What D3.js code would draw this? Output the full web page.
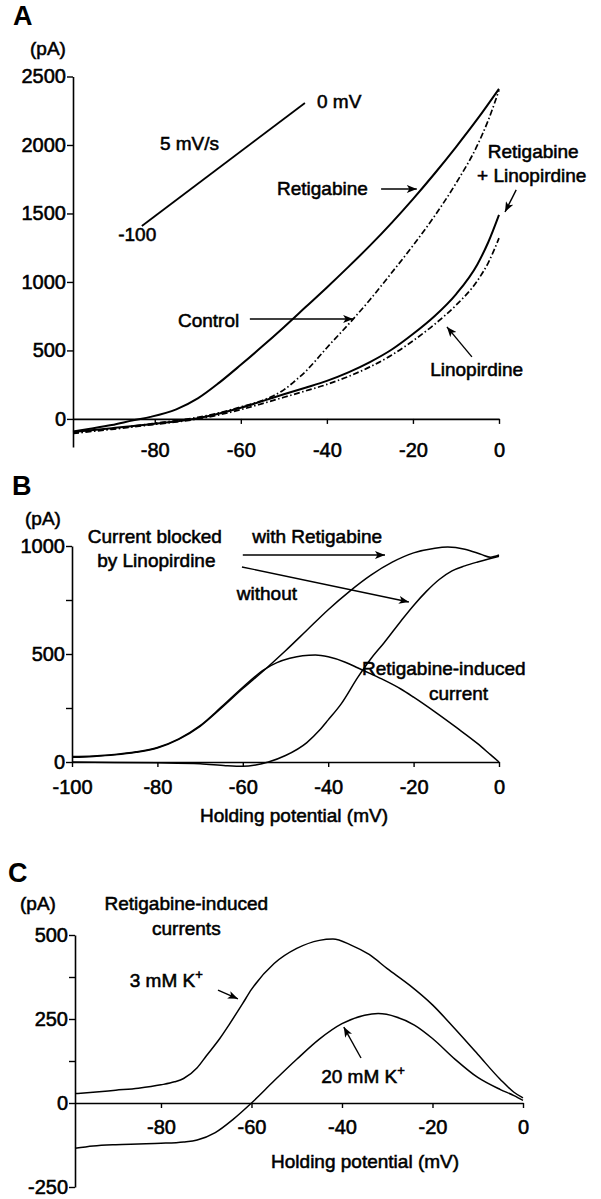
<!DOCTYPE html>
<html>
<head>
<meta charset="utf-8">
<script src="https://cdn.jsdelivr.net/npm/d3@7"></script>
<style>
  body { margin: 0; background: #fff; }
  svg text { font-family: "Liberation Sans", Arial, sans-serif; fill: #000; }
</style>
</head>
<body>
<svg id="fig"></svg>
<script>
const width = 601;
const height = 1199;

// ---- Panel A: I-V curves (mV, pA) ----
const aTicksX = [-80, -60, -40, -20, 0];
const aTicksY = [0, 500, 1000, 1500, 2000, 2500];
const aRetigabine = [[-99,-92],[-95,-72],[-90,-45],[-85,-10],[-81,15],[-75,70],[-70,150],[-65,265],[-60,395],[-55,530],[-50,670],[-45,815],[-40,960],[-35,1110],[-30,1265],[-25,1430],[-20,1605],[-15,1790],[-10,1985],[-5,2190],[0,2410]];
const aControl = [[-99,-100],[-90,-72],[-80,-32],[-70,12],[-65,45],[-60,88],[-55,135],[-52.5,168],[-50,212],[-47.5,275],[-45,345],[-42.5,430],[-40,520],[-35,690],[-30,870],[-25,1065],[-20,1265],[-15,1480],[-10,1720],[-5,2000],[-2.5,2180],[0,2400]];
const aRetLino = [[-99,-96],[-90,-68],[-80,-35],[-70,5],[-65,40],[-60,82],[-55,130],[-50,180],[-45,228],[-40,278],[-35,340],[-30,415],[-25,505],[-20,620],[-15,750],[-10,910],[-5,1130],[-2.5,1290],[0,1490]];
const aLino = [[-99,-106],[-90,-76],[-80,-40],[-70,0],[-65,30],[-60,68],[-55,112],[-50,158],[-45,204],[-40,252],[-35,310],[-30,380],[-25,465],[-20,570],[-15,690],[-10,830],[-5,1010],[-2.5,1140],[0,1320]];
const aRamp = [[-83, 1409], [-45.1, 2307]];
const aLabels = [
  { t: "5 mV/s", x: -78.8, y: 1964 },
  { t: "0 mV", x: -42.3, y: 2270 },
  { t: "-100", x: -88.5, y: 1300 },
  { t: "Retigabine", x: -51.6, y: 1635 },
  { t: "Retigabine", x: -2.6, y: 1905 },
  { t: "+ Linopirdine", x: -5.1, y: 1730 },
  { t: "Control", x: -74.6, y: 672 },
  { t: "Linopirdine", x: -16.0, y: 314 }
];
const aArrows = [
  [[-27.4, 1679], [-19.1, 1679]],
  [[4.0, 1672], [1.4, 1511]],
  [[-57.9, 730], [-33.9, 730]],
  [[-6.3, 453], [-12.1, 672]]
];

// ---- Panel B: linopirdine-sensitive currents ----
const bTicksX = [-100, -80, -60, -40, -20, 0];
const bTicksY = [0, 250, 500, 750, 1000];
const bWith = [[-100,22],[-95,26],[-90,33],[-85,45],[-80,65],[-75,105],[-70,165],[-65,250],[-60,340],[-55,425],[-50,515],[-45,610],[-40,705],[-35,790],[-30,865],[-25,925],[-20,968],[-15,990],[-12,995],[-8,985],[-4,960],[-2,948],[0,958]];
const bWithout = [[-100,0],[-90,-2],[-80,-4],[-70,-8],[-64,-17],[-60,-20],[-57,-14],[-54,0],[-50,30],[-45,90],[-42,148],[-40,195],[-37,268],[-33,394],[-30,478],[-27,550],[-23,652],[-20,725],[-17,790],[-14,845],[-11,885],[-8,908],[-5,926],[-2,942],[0,952]];
const bInduced = [[-100,25],[-95,28],[-90,35],[-85,47],[-80,67],[-75,107],[-70,168],[-65,255],[-60,346],[-55,428],[-52,460],[-49,480],[-46,492],[-43,495],[-40,487],[-36,462],[-33,435],[-30,408],[-27,380],[-23,338],[-20,300],[-15,232],[-10,160],[-5,85],[-2,34],[0,0]];
const bLabels = [
  { t: "Current blocked", x: -96.3, y: 1014 },
  { t: "by Linopirdine", x: -94.1, y: 903 },
  { t: "with Retigabine", x: -57.8, y: 1014 },
  { t: "without", x: -61.4, y: 750 },
  { t: "Retigabine-induced", x: -32.1, y: 403 },
  { t: "current", x: -16.4, y: 287 }
];
const bArrows = [
  [[-60.0, 958], [-26.7, 958]],
  [[-60.2, 903], [-21.1, 741]]
];

// ---- Panel C: retigabine-induced currents at two [K+] ----
const cTicksX = [-80, -60, -40, -20, 0];
const cTicksY = [-250, 0, 125, 250, 375, 500];
const c3mM = [[-99,28],[-95,32],[-90,38],[-85,44],[-80,54],[-77,63],[-75,73],[-72,105],[-70,140],[-67,192],[-65,232],[-62,295],[-60,338],[-55,415],[-50,460],[-45,484],[-42,488],[-38,470],[-34,442],[-30,400],[-25,350],[-20,292],[-15,220],[-10,145],[-5,70],[-2,32],[0,15]];
const c20mM = [[-99,-135],[-95,-128],[-90,-124],[-85,-122],[-80,-120],[-75,-116],[-72,-110],[-68,-88],[-64,-48],[-60,0],[-55,66],[-50,130],[-45,190],[-40,236],[-35,261],[-32,266],[-28,256],[-24,232],[-20,192],[-15,130],[-10,76],[-5,40],[-2,22],[0,8]];
const cArrows = [
  [[-67.4, 336], [-63.0, 310]],
  [[-35.8, 134], [-39.6, 226]]
];

const svg = d3.select("#fig").attr("width", width).attr("height", height);

svg.append("defs").append("marker")
  .attr("id", "head")
  .attr("markerUnits", "userSpaceOnUse")
  .attr("viewBox", "0 0 10 8")
  .attr("refX", 10).attr("refY", 4)
  .attr("markerWidth", 11).attr("markerHeight", 8)
  .attr("orient", "auto")
  .append("path").attr("d", "M0,0L10,4L0,8L2.5,4Z").attr("fill", "#000");

function txt(sel, size, weight) {
  return sel.style("font-size", size + "px")
    .style("font-weight", weight || "normal")
    .attr("stroke", "#000").attr("stroke-width", 0.55);
}

function panel(cfg) {
  const g = svg.append("g");
  const x = d3.scaleLinear().domain(cfg.xDomain).range(cfg.xRange);
  const y = d3.scaleLinear().domain(cfg.yDomain).range(cfg.yRange);

  // x axis sits at 0 pA
  const xa = g.append("g")
    .attr("transform", `translate(0,${y(0)})`)
    .call(d3.axisBottom(x).tickValues(cfg.xTicks).tickSize(5).tickSizeOuter(0)
      .tickPadding(cfg.xPad).tickFormat(d => String(d)));
  const ya = g.append("g")
    .attr("transform", `translate(${cfg.xRange[0]},0)`)
    .call(d3.axisLeft(y).tickValues(cfg.yTicks).tickSize(6).tickSizeOuter(0).tickPadding(4)
      .tickFormat(cfg.yFmt));
  [xa, ya].forEach(a => {
    a.select(".domain").attr("stroke-width", 1.6);
    a.selectAll(".tick line").attr("stroke-width", 1.4);
    a.selectAll("text").call(txt, 20).attr("font-family", null).attr("font-size", null);
  });
  ya.selectAll("text").attr("dx", "0.15em");

  const line = d3.line().x(d => x(d[0])).y(d => y(d[1])).curve(d3.curveMonotoneX);
  cfg.series.forEach(s => {
    g.append("path").datum(s.data)
      .attr("d", line)
      .attr("fill", "none")
      .attr("stroke", "#000")
      .attr("stroke-width", s.w || 1.6)
      .attr("stroke-dasharray", s.dash || null)
      .attr("stroke-linejoin", "round");
  });

  (cfg.arrows || []).forEach(a => {
    g.append("line")
      .attr("x1", x(a[0][0])).attr("y1", y(a[0][1]))
      .attr("x2", x(a[1][0])).attr("y2", y(a[1][1]))
      .attr("stroke", "#000").attr("stroke-width", 1.4)
      .attr("marker-end", "url(#head)");
  });

  (cfg.labels || []).forEach(l => {
    g.append("text").attr("x", x(l.x)).attr("y", y(l.y))
      .attr("text-anchor", l.anchor || "start")
      .call(txt, 19).text(l.t);
  });

  // panel letter and unit
  g.append("text").attr("x", cfg.letter[1]).attr("y", cfg.letter[2])
    .call(txt, 27, "bold").attr("stroke-width", 0).text(cfg.letter[0]);
  g.append("text").attr("x", cfg.unit[0]).attr("y", cfg.unit[1])
    .call(txt, 19).text("(pA)");

  if (cfg.xTitle) {
    g.append("text").attr("x", x(cfg.xTitle[0])).attr("y", y(0) + cfg.xTitle[1])
      .attr("text-anchor", "middle").call(txt, 19).text("Holding potential (mV)");
  }
  return { g, x, y };
}

// Panel A
const A = panel({
  xDomain: [-99, 0], xRange: [73, 499],
  yDomain: [-205, 2500], yRange: [447, 76.5],
  xTicks: aTicksX, yTicks: aTicksY, yFmt: d => String(d), xPad: 19,
  series: [
    { data: aRetigabine, w: 2 },
    { data: aControl, w: 1.7, dash: "6,2.5,1.5,2.5" },
    { data: aRetLino, w: 2 },
    { data: aLino, w: 1.7, dash: "6,2.5,1.5,2.5" }
  ],
  arrows: aArrows, labels: aLabels,
  letter: ["A", 13, 25], unit: [30, 55]
});
A.g.append("line")
  .attr("x1", A.x(aRamp[0][0])).attr("y1", A.y(aRamp[0][1]))
  .attr("x2", A.x(aRamp[1][0])).attr("y2", A.y(aRamp[1][1]))
  .attr("stroke", "#000").attr("stroke-width", 1.8);

// Panel B
panel({
  xDomain: [-100, 0], xRange: [72, 499],
  yDomain: [0, 1000], yRange: [762, 546],
  xTicks: bTicksX, yTicks: bTicksY, yFmt: d => (d % 500 === 0 ? String(d) : ""), xPad: 13,
  series: [
    { data: bWith, w: 1.5 },
    { data: bWithout, w: 1.5 },
    { data: bInduced, w: 1.5 }
  ],
  arrows: bArrows, labels: bLabels,
  letter: ["B", 12, 495], unit: [25, 525],
  xTitle: [-48, 60]
});

// Panel C
const C = panel({
  xDomain: [-99, 0], xRange: [75, 523],
  yDomain: [-250, 500], yRange: [1187, 935],
  xTicks: cTicksX, yTicks: cTicksY, yFmt: d => (d % 250 === 0 ? String(d) : ""), xPad: 12,
  series: [
    { data: c3mM, w: 1.5 },
    { data: c20mM, w: 1.5 }
  ],
  arrows: cArrows,
  labels: [
    { t: "Retigabine-induced", x: -74.4, y: 574, anchor: "middle" },
    { t: "currents", x: -74.4, y: 500, anchor: "middle" }
  ],
  letter: ["C", 8, 882], unit: [20, 910],
  xTitle: [-34.9, 65]
});

// K+ labels with superscript
[["3 mM K", -86.9, 345], ["20 mM K", -44.6, 60]].forEach(([t, vx, vy]) => {
  const el = C.g.append("text").attr("x", C.x(vx)).attr("y", C.y(vy)).call(txt, 19);
  el.append("tspan").text(t);
  el.append("tspan").attr("dy", -8).style("font-size", "13px").text("+");
});
</script>
</body>
</html>
